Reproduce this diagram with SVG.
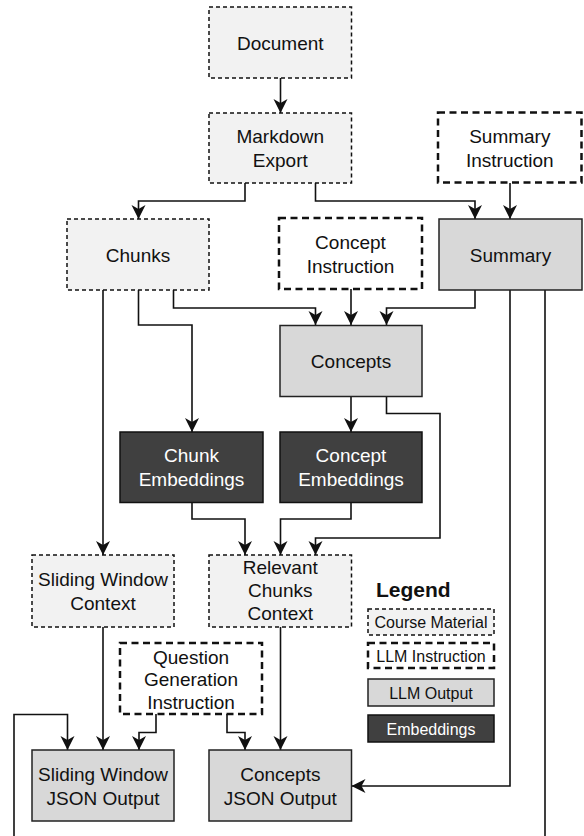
<svg xmlns="http://www.w3.org/2000/svg" width="584" height="836" viewBox="0 0 584 836">
<style>
text{font-family:"Liberation Sans",Arial,sans-serif;font-size:19px;fill:#111;text-anchor:middle}
.mat{fill:#f2f2f2;stroke:#111;stroke-width:1.5;stroke-dasharray:4 3}
.ins{fill:#fff;stroke:#111;stroke-width:2.5;stroke-dasharray:7 4.5}
.out{fill:#d8d8d8;stroke:#222;stroke-width:1.5}
.emb{fill:#404040;stroke:#111;stroke-width:1.5}
.wt{fill:#fff}
.lg{font-size:16px}
.c path{fill:none;stroke:#111;stroke-width:1.6;marker-end:url(#ah)}
</style>
<defs>
<marker id="ah" markerUnits="userSpaceOnUse" markerWidth="16" markerHeight="16" refX="14" refY="7" orient="auto">
<path d="M0,0 L14,7 L0,14 L4,7 z" fill="#111"/>
</marker>
</defs>
<rect width="584" height="836" fill="#fff"/>
<g class="c" id="connectors">
<path d="M280.5 78 V113"/>
<path d="M245 183 V201 H138.5 V219"/>
<path d="M315.5 183 V201 H475 V219"/>
<path d="M510 183 V219"/>
<path d="M103 290 V555"/>
<path d="M138.5 290 V325 H192 V432"/>
<path d="M173.5 290 V308 H315.5 V325"/>
<path d="M351 289 V325"/>
<path d="M475 290 V308 H386.5 V325"/>
<path d="M351 396 V432"/>
<path d="M386.5 396 V413.5 H440 V538 H315.5 V555"/>
<path d="M192 502 V519 H245 V555"/>
<path d="M351 502 V519 H280.5 V555"/>
<path d="M510 290 V786 H351.5"/>
<path d="M545 290 V860 H14 V714.5 H67.5 V750"/>
<path d="M103 627 V750"/>
<path d="M156 714 V732.5 H139 V750"/>
<path d="M227 714 V732.5 H245 V750"/>
<path d="M280.5 627 V750"/>
</g>
<g id="document"><rect class="mat" x="209" y="7" width="142.5" height="71"/><text x="280.3" y="49.5">Document</text></g>
<g id="markdown"><rect class="mat" x="209" y="113" width="142.5" height="70"/><text x="280.3" y="143">Markdown<tspan x="280.3" dy="24">Export</tspan></text></g>
<g id="summary-instruction"><rect class="ins" x="438" y="112.5" width="143.5" height="70"/><text x="509.8" y="142.5">Summary<tspan x="509.8" dy="24">Instruction</tspan></text></g>
<g id="chunks"><rect class="mat" x="67" y="219" width="142" height="71"/><text x="138" y="261.5">Chunks</text></g>
<g id="concept-instruction"><rect class="ins" x="279" y="218" width="143" height="71"/><text x="350.5" y="248.5">Concept<tspan x="350.5" dy="24">Instruction</tspan></text></g>
<g id="summary"><rect class="out" x="439" y="219" width="143" height="71"/><text x="510.5" y="261.5">Summary</text></g>
<g id="concepts"><rect class="out" x="280" y="325.5" width="142" height="71"/><text x="351" y="368">Concepts</text></g>
<g id="chunk-embeddings"><rect class="emb" x="120" y="432" width="143" height="70.5"/><text class="wt" x="191.5" y="462">Chunk<tspan x="191.5" dy="24">Embeddings</tspan></text></g>
<g id="concept-embeddings"><rect class="emb" x="280" y="432" width="142" height="70.5"/><text class="wt" x="351" y="462">Concept<tspan x="351" dy="24">Embeddings</tspan></text></g>
<g id="sliding-window-context"><rect class="mat" x="32" y="555" width="142" height="72"/><text x="103" y="586">Sliding Window<tspan x="103" dy="24">Context</tspan></text></g>
<g id="relevant-chunks-context"><rect class="mat" x="209" y="555" width="142.5" height="72"/><text x="280.3" y="574">Relevant<tspan x="280.3" dy="23">Chunks</tspan><tspan x="280.3" dy="23">Context</tspan></text></g>
<g id="question-generation-instruction"><rect class="ins" x="120" y="643" width="142" height="71"/><text x="191" y="663.5">Question<tspan x="191" dy="22.5">Generation</tspan><tspan x="191" dy="22.5">Instruction</tspan></text></g>
<g id="sliding-window-json"><rect class="out" x="32" y="750" width="142" height="71"/><text x="103" y="780.5">Sliding Window<tspan x="103" dy="24">JSON Output</tspan></text></g>
<g id="concepts-json"><rect class="out" x="209" y="750" width="142.5" height="71"/><text x="280.3" y="780.5">Concepts<tspan x="280.3" dy="24">JSON Output</tspan></text></g>
<g id="legend">
<text x="376" y="597" style="font-weight:bold;font-size:21px;text-anchor:start">Legend</text>
<rect class="mat" x="368" y="609" width="126" height="26"/><text class="lg" x="431" y="627.5">Course Material</text>
<rect class="ins" x="368" y="643" width="126" height="25"/><text class="lg" x="431" y="661.5">LLM Instruction</text>
<rect class="out" x="368" y="679" width="126" height="27"/><text class="lg" x="431" y="698.5">LLM Output</text>
<rect class="emb" x="368" y="715" width="126" height="27"/><text class="lg wt" x="431" y="734.5">Embeddings</text>
</g>
</svg>
